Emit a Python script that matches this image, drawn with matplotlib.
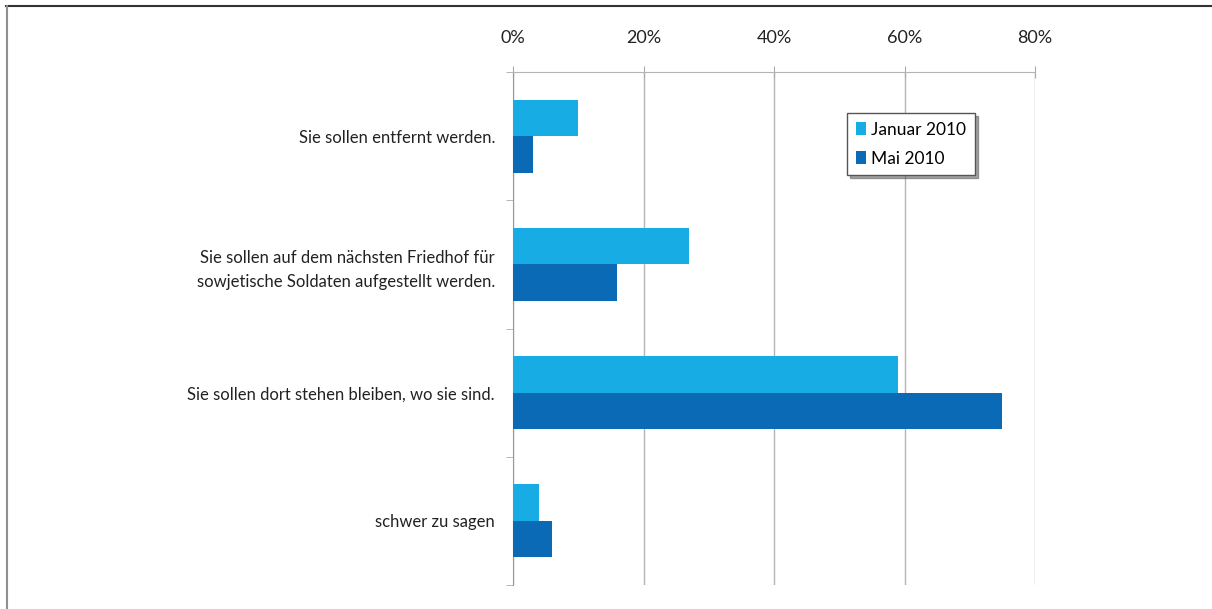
import matplotlib.pyplot as plt
import numpy as np
from matplotlib.lines import Line2D

categories = [
    'Sie sollen entfernt werden.',
    'Sie sollen auf dem nächsten Friedhof für\nsowjetische Soldaten aufgestellt werden.',
    'Sie sollen dort stehen bleiben, wo sie sind.',
    'schwer zu sagen',
]
jan_2010 = [10, 27, 59, 4]
mai_2010 = [3, 16, 75, 6]
series_labels = ['Januar 2010', 'Mai 2010']
xticks = [0, 20, 40, 60, 80]

plt.rcParams['font.family'] = ['Lato', 'DejaVu Sans']

fig = plt.figure(figsize=(12.12, 6.09), dpi=100)
ax = fig.add_axes([513 / 1212, 1 - 585 / 609, 522 / 1212, 513 / 609])

pos = np.arange(len(categories))
h = 0.285
ax.barh(pos - h / 2, jan_2010, height=h, color='#17ace3', label=series_labels[0], zorder=3)
ax.barh(pos + h / 2, mai_2010, height=h, color='#0a6ab6', label=series_labels[1], zorder=3)

ax.set_xlim(0, 80)
ax.set_ylim(len(categories) - 0.5, -0.5)

ax.xaxis.tick_top()
ax.set_xticks(xticks)
ax.set_xticklabels([f'{t}%' for t in xticks], fontsize=13, color='#222222')
ax.tick_params(axis='x', direction='inout', length=9, color='#aaaaaa', pad=14)
ax.grid(axis='x', color='#b5b5b5', linewidth=1, zorder=0)

ax.set_yticks(pos)
ax.set_yticklabels(categories, fontsize=12, color='#222222', linespacing=1.6)
ax.tick_params(axis='y', length=0, pad=13)
ax.set_yticks(np.arange(len(categories) + 1) - 0.5, minor=True)
ax.tick_params(axis='y', which='minor', length=5, color='#aaaaaa')

for s in ['right', 'bottom']:
    ax.spines[s].set_visible(False)
ax.spines['left'].set_color('#999999')
ax.spines['top'].set_color('#b5b5b5')

leg = ax.legend(loc='upper left', bbox_to_anchor=(0.64, 0.92), borderaxespad=0,
                fontsize=12.5, frameon=True, fancybox=False, shadow=True,
                handlelength=0.6, handleheight=0.8, handletextpad=0.3,
                borderpad=0.5, labelspacing=0.75)
leg.get_frame().set_edgecolor('#555555')
leg.get_frame().set_linewidth(1)

# page frame: dark top rule and grey left rule
fig.add_artist(Line2D([6 / 1212, 1], [1 - 5.5 / 609] * 2, transform=fig.transFigure,
                      color='#333333', linewidth=1.5))
fig.add_artist(Line2D([6.5 / 1212] * 2, [0, 1 - 5.5 / 609], transform=fig.transFigure,
                      color='#909090', linewidth=1.5))

fig.savefig('out.png', dpi=100)
